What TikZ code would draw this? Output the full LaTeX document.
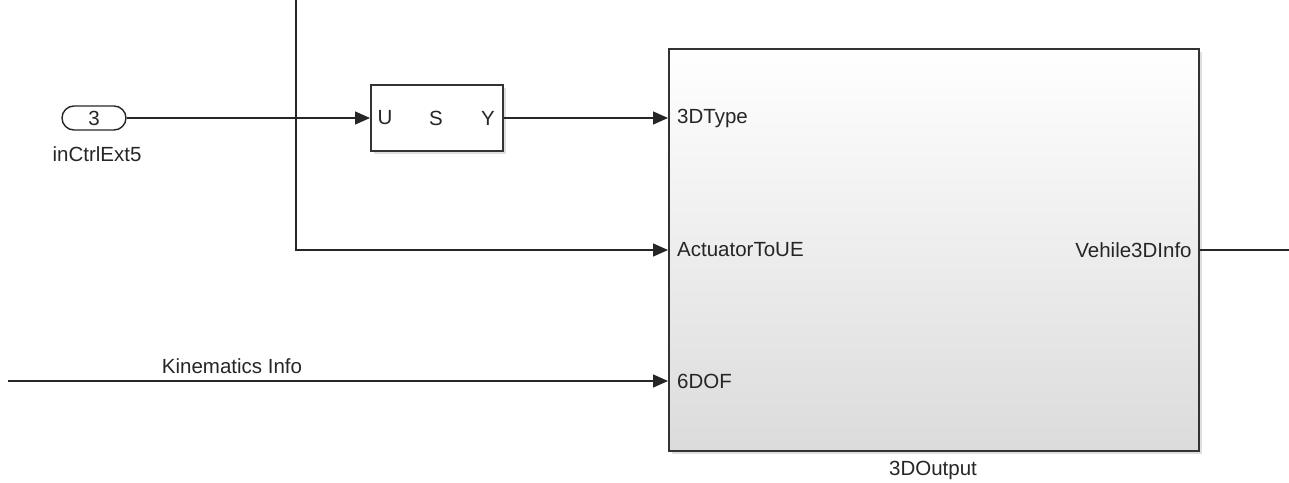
\documentclass[tikz,border=0pt]{standalone}
\usepackage{fontspec}
\setmainfont{Liberation Sans}
\usetikzlibrary{arrows.meta,positioning,shadows,shapes.misc}

\tikzset{
  wire/.style={draw=black!85, line width=1.4pt},
  sig/.style={wire, -{Triangle[length=15pt,width=13pt]}},
  blk/.style={draw=black!80, line width=1.8pt,
    drop shadow={shadow xshift=3pt,shadow yshift=-3pt,opacity=0.25}},
  lbl/.style={font=\fontsize{20.5}{24}\selectfont, text=black!85, inner sep=0pt},
}

\begin{document}
\begin{tikzpicture}[x=1pt,y=-1pt]
\useasboundingbox (0,0) rectangle (1289,482);

% inport
\node[draw=black!85, rounded rectangle, line width=1.4pt, minimum width=64pt,
      minimum height=24pt, lbl] (in3) at (94,118) {3};
\node[lbl] (in3name) at (97,154) {inCtrlExt5};

% subsystem U S Y
\node[blk, fill=white, minimum width=132pt, minimum height=66pt,
      anchor=north west] (usy) at (370,84) {};
\foreach \t/\x in {U/385,S/436,Y/488} {
  \node[lbl] (usy\t) at (\x,118) {\t};
}

% main block
\node[blk, top color=white, bottom color=black!14, minimum width=530pt,
      minimum height=402pt, anchor=north west] (out) at (668,48) {};
\node[lbl] (outname) at (933,470) {3DOutput};

% ports on the left edge
\coordinate (p1) at (out.west |- in3);
\coordinate (p2) at (668,250);
\coordinate (p3) at (668,381);
\node[lbl, anchor=west] (l1) at ([xshift=9pt]p1) {3DType};
\node[lbl, anchor=west] (l2) at ([xshift=9pt]p2) {ActuatorToUE};
\node[lbl, anchor=west] (l3) at ([xshift=9pt]p3) {6DOF};
\node[lbl, anchor=east] (l4) at ([xshift=-8pt]out.east |- p2) {Vehile3DInfo};

% free ends
\coordinate (top) at (296,0);
\coordinate (kin) at (8,381);
\coordinate (vout) at (1289,250);

% connectors
\draw[sig] (in3.east) -- (usy.west |- in3);
\draw[sig] (usy.east |- in3) -- (p1);
\draw[sig] (top) |- (p2);
\draw[sig] (kin) -- (p3);
\node[lbl] (kinname) at (232,366) {Kinematics Info};
\draw[wire] (out.east |- p2) -- (vout);

\end{tikzpicture}
\end{document}
